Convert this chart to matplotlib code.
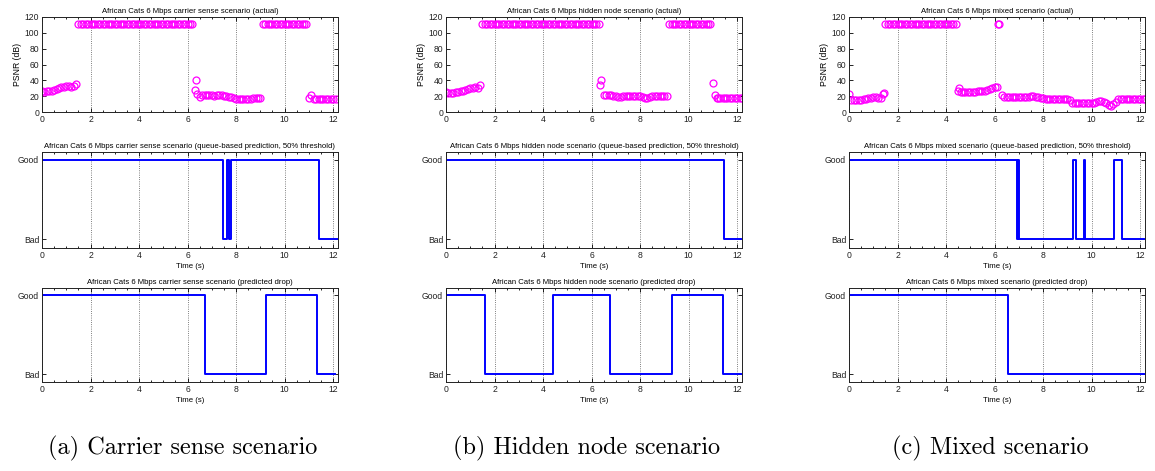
import numpy as np
import matplotlib
matplotlib.use("Agg")
import matplotlib.pyplot as plt
from matplotlib.ticker import MultipleLocator

plt.rcParams['font.family'] = ['Liberation Sans', 'DejaVu Sans']

# PSNR samples every 0.1 s
psnr_cs = ([26, 25, 26, 27, 27, 28, 29, 30, 31, 32, 33, 33, 31, 33, 35]
           + [111] * 48
           + [28]
           + [23, 19, 22, 21, 21, 21, 21, 20, 21, 21, 21, 20, 20, 19, 19, 18,
              17, 17, 17, 17, 17, 17, 17, 18, 18, 18, 18]
           + [111] * 19
           + [18, 21]
           + [17] * 10)
extra_cs_t = [6.35]
extra_cs_v = [40]

psnr_hn = ([25, 24, 24, 24, 25, 25, 26, 27, 28, 29, 30, 30, 31, 30, 34]
           + [111] * 49
           + [40]
           + [21, 21, 21, 21, 20, 20, 19, 19, 20, 20, 20, 20, 20, 20, 20, 20,
              19, 18, 18, 19, 20, 20, 20, 20, 20, 20, 20]
           + [111] * 18
           + [37, 21]
           + [18] * 11)
extra_hn_t = [6.33, 11.15]
extra_hn_v = [34, 18]

psnr_mx = ([23, 15, 15, 15, 15, 15, 16, 17, 18, 18, 19, 19, 18, 18, 23]
           + [111] * 30
           + [27, 25, 25, 25, 25, 25, 25, 25, 26, 26, 27, 27, 28, 29, 30, 31, 31]
           + [111]
           + [21, 19, 19, 19, 19, 19, 19, 19, 19, 19, 19, 19, 20, 20, 19, 19, 18, 18]
           + [17, 17, 17, 17, 17, 17, 17, 17, 17, 17, 15]
           + [12, 11, 11, 12, 12, 11, 11, 11, 11, 11]
           + [13, 14, 14, 13, 11, 9, 7, 10, 13, 16]
           + [16] * 11)
extra_mx_t = [1.45, 4.52, 6.15]
extra_mx_v = [24, 30, 111]

# Good (1) / Bad (0) state change points
q_cs_t = [0, 7.45, 7.62, 7.7, 7.78, 11.43, 12.2]
q_cs_v = [1, 0, 1, 0, 1, 0, 0]
q_hn_t = [0, 11.45, 12.15]
q_hn_v = [1, 0, 0]
q_mx_t = [0, 6.93, 6.97, 7.01, 9.22, 9.36, 9.67, 9.71, 10.93, 11.24, 12.15]
q_mx_v = [1, 0, 1, 0, 1, 0, 1, 0, 1, 0, 0]

d_cs_t = [0, 6.7, 9.25, 11.32, 12.08]
d_cs_v = [1, 0, 1, 0, 0]
d_hn_t = [0, 1.62, 4.42, 6.77, 9.33, 11.42, 12.14]
d_hn_v = [1, 0, 1, 0, 1, 0, 0]
d_mx_t = [0, 6.56, 12.14]
d_mx_v = [1, 0, 0]

names = ['carrier sense', 'hidden node', 'mixed']
captions = ['(a) Carrier sense scenario', '(b) Hidden node scenario',
            '(c) Mixed scenario']
psnr = [psnr_cs, psnr_hn, psnr_mx]
extras = [(extra_cs_t, extra_cs_v), (extra_hn_t, extra_hn_v),
          (extra_mx_t, extra_mx_v)]
queue = [(q_cs_t, q_cs_v), (q_hn_t, q_hn_v), (q_mx_t, q_mx_v)]
drop = [(d_cs_t, d_cs_v), (d_hn_t, d_hn_v), (d_mx_t, d_mx_v)]

W, H = 1155, 471
fig = plt.figure(figsize=(W / 100, H / 100), dpi=100)

lefts = [42, 446, 849]
width = 296
rows = [(17, 112), (152, 248), (288, 382)]


def make_ax(left, top, bottom):
    return fig.add_axes([left / W, 1 - bottom / H, width / W, (bottom - top) / H])


def style(ax):
    ax.set_xlim(0, 12.2)
    ax.xaxis.set_major_locator(MultipleLocator(2))
    ax.xaxis.set_minor_locator(MultipleLocator(0.5))
    ax.tick_params(which='both', direction='in', top=True, right=True,
                   labelsize=6.2, pad=2, width=0.6, labelcolor='#222222')
    ax.tick_params(which='major', length=3)
    ax.tick_params(which='minor', length=1.5)
    ax.tick_params(axis='y', which='minor', left=False, right=False)
    ax.grid(axis='x', which='major', linestyle=':', color='#555555', lw=0.6)
    for s in ax.spines.values():
        s.set_linewidth(0.7)
        s.set_color('#222222')


for i in range(3):
    left = lefts[i]
    # actual PSNR
    ax = make_ax(left, *rows[0])
    t = np.arange(len(psnr[i])) / 10
    ax.plot(t, psnr[i], 'o', mfc='none', mec='magenta', ms=5, mew=0.9)
    ax.plot(extras[i][0], extras[i][1], 'o', mfc='none', mec='magenta',
            ms=5, mew=0.9)
    ax.set_ylim(0, 120)
    ax.set_yticks(range(0, 121, 20))
    ax.set_ylabel('PSNR (dB)', fontsize=6.2, labelpad=2)
    ax.set_title('African Cats 6 Mbps %s scenario (actual)' % names[i],
                 fontsize=5.6, pad=3)
    style(ax)

    # queue-based prediction
    ax = make_ax(left, *rows[1])
    ax.step(queue[i][0], queue[i][1], where='post', color='blue', lw=1.4)
    ax.set_ylim(-0.11, 1.1)
    ax.set_yticks([0, 1])
    ax.set_yticklabels(['Bad', 'Good'])
    ax.set_xlabel('Time (s)', fontsize=5.6, labelpad=2)
    ax.set_title('African Cats 6 Mbps %s scenario (queue-based prediction, '
                 '50%% threshold)' % names[i], fontsize=5.6, pad=3)
    style(ax)

    # predicted drop
    ax = make_ax(left, *rows[2])
    ax.step(drop[i][0], drop[i][1], where='post', color='blue', lw=1.4)
    ax.set_ylim(-0.1, 1.09)
    ax.set_yticks([0, 1])
    ax.set_yticklabels(['Bad', 'Good'])
    ax.set_xlabel('Time (s)', fontsize=5.6, labelpad=2)
    ax.set_title('African Cats 6 Mbps %s scenario (predicted drop)' % names[i],
                 fontsize=5.6, pad=3)
    style(ax)

    fig.text((left + width / 2 - 7) / W, 1 - 448 / H, captions[i],
             family='cmr10', fontsize=17.5, ha='center', va='center')

fig.savefig('out.png', dpi=100)
